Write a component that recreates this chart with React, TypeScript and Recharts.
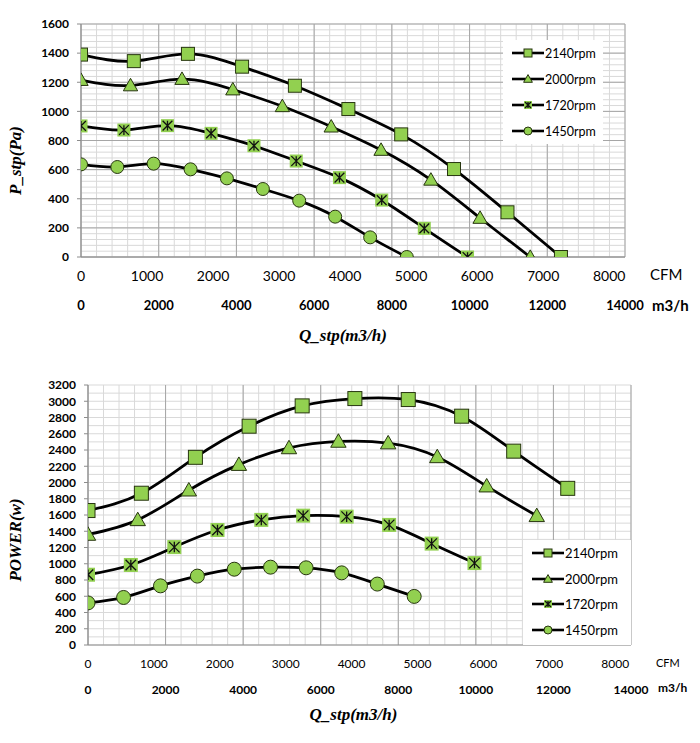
import { CartesianGrid, Label, Legend, Line, LineChart, XAxis, YAxis } from 'recharts'

const GREEN = '#92d050'
const EDGE = '#27350f'
const M3H_PER_CFM = 1.699
const M3H_MAX = 14000

// static pressure (x in CFM, y in Pa)
const cfm2140P = [0, 800, 1620, 2440, 3240, 4050, 4850, 5650, 6460, 7270]
const p2140 = [1390, 1345, 1395, 1307, 1176, 1016, 842, 604, 307, 0]
const cfm2000P = [0, 750, 1530, 2300, 3050, 3790, 4545, 5300, 6045, 6805]
const p2000 = [1215, 1178, 1222, 1150, 1035, 895, 735, 530, 268, 0]
const cfm1720P = [0, 650, 1310, 1970, 2620, 3260, 3915, 4555, 5200, 5855]
const p1720 = [900, 872, 902, 849, 764, 659, 545, 391, 197, 0]
const cfm1450P = [0, 550, 1100, 1660, 2210, 2755, 3305, 3850, 4380, 4935]
const p1450 = [636, 618, 641, 602, 540, 467, 387, 277, 135, 0]

// power (x in CFM, y in W)
const cfm2140W = [0, 810, 1630, 2445, 3250, 4050, 4860, 5670, 6460, 7280]
const w2140 = [1655, 1868, 2310, 2693, 2943, 3033, 3021, 2816, 2386, 1928]
const cfm2000W = [0, 755, 1530, 2290, 3050, 3800, 4555, 5300, 6050, 6810]
const w2000 = [1360, 1540, 1905, 2220, 2425, 2505, 2485, 2315, 1955, 1590]
const cfm1720W = [0, 650, 1310, 1965, 2630, 3265, 3925, 4570, 5215, 5865]
const w1720 = [865, 985, 1205, 1415, 1540, 1592, 1580, 1478, 1248, 1008]
const cfm1450W = [0, 540, 1100, 1660, 2220, 2770, 3310, 3850, 4390, 4950]
const w1450 = [518, 585, 728, 848, 933, 958, 950, 888, 750, 598]

const cfmTicks = [0, 1000, 2000, 3000, 4000, 5000, 6000, 7000, 8000]
const m3hTicks = [0, 2000, 4000, 6000, 8000, 10000, 12000, 14000]
const pTicks = [0, 200, 400, 600, 800, 1000, 1200, 1400, 1600]
const wTicks = [0, 200, 400, 600, 800, 1000, 1200, 1400, 1600, 1800, 2000, 2200, 2400, 2600, 2800, 3000, 3200]

const seriesNames = ['2140rpm', '2000rpm', '1720rpm', '1450rpm']
const seriesShapes = ['square', 'triangle', 'star', 'circle']

const zip = (xs: number[], ys: number[]) => xs.map((x, i) => ({ x, y: ys[i] }))
const range = (max: number, step: number) => Array.from({ length: max / step + 1 }, (_, i) => i * step)

const pressureData = [zip(cfm2140P, p2140), zip(cfm2000P, p2000), zip(cfm1720P, p1720), zip(cfm1450P, p1450)]
const powerData = [zip(cfm2140W, w2140), zip(cfm2000W, w2000), zip(cfm1720W, w1720), zip(cfm1450W, w1450)]
// chart-level rows for the m3/h scale (it carries no series of its own)
const m3hRows = m3hTicks.map((m3h) => ({ m3h }))

function Marker({ shape, cx, cy, s }: { shape: string; cx: number; cy: number; s: number }) {
  const h = s / 2
  if (shape === 'square') {
    return <rect x={cx - h} y={cy - h} width={s} height={s} fill={GREEN} stroke={EDGE} strokeWidth={1} />
  }
  if (shape === 'triangle') {
    const t = s * 0.55
    return (
      <polygon
        points={`${cx},${cy - t} ${cx + t},${cy + t * 0.75} ${cx - t},${cy + t * 0.75}`}
        fill={GREEN}
        stroke={EDGE}
        strokeWidth={1}
      />
    )
  }
  if (shape === 'star') {
    const k = h * 0.75
    return (
      <g>
        <rect x={cx - h} y={cy - h} width={s} height={s} fill={GREEN} />
        <path
          d={`M${cx - k},${cy - k}L${cx + k},${cy + k}M${cx + k},${cy - k}L${cx - k},${cy + k}M${cx},${cy - k}L${cx},${cy + k}`}
          stroke="#111"
          strokeWidth={1.3}
        />
      </g>
    )
  }
  return <circle cx={cx} cy={cy} r={h} fill={GREEN} stroke={EDGE} strokeWidth={1} />
}

function makeDot(shape: string, s: number) {
  return (props: any) => {
    const { cx, cy, index } = props
    if (cx == null || cy == null) return <g key={index} />
    return <Marker key={index} shape={shape} cx={cx} cy={cy} s={s} />
  }
}

function LegendBox({ fontSize, rowH, marker }: { fontSize: number; rowH: number; marker: number }) {
  return (
    <div style={{ background: '#fff', padding: '0 0 0 9px' }}>
      {seriesNames.map((name, i) => (
        <div key={name} style={{ display: 'flex', alignItems: 'center', height: rowH }}>
          <svg width={32} height={14} style={{ display: 'block' }}>
            <line x1={0} y1={7} x2={32} y2={7} stroke="#000" strokeWidth={2.6} />
            <Marker shape={seriesShapes[i]} cx={16} cy={7} s={marker} />
          </svg>
          <span style={{ fontFamily: 'Lato', fontSize, color: '#000', marginLeft: 1 }}>{name}</span>
        </div>
      ))}
    </div>
  )
}

const serif = { fontFamily: 'Liberation Serif', fontWeight: 700, fontStyle: 'italic' } as const

type PanelProps = {
  top: number
  height: number
  margin: { top: number; right: number; bottom: number; left: number }
  data: { x: number; y: number }[][]
  yTicks: number[]
  yMax: number
  yMinorStep: number
  majorHorizontal: boolean
  yTitle: string
  yTitleShift: number
  xTitleShift: number
  xTitleDrop: number
  m3hMargin: number
  unitDrop: number
  cfmFont: number
  m3hFont: number
  unitFont: number
  cfmUnitFont: number
  legend: { left: number; top: number; width: number; height: number; fontSize: number; rowH: number }
  markerSize: number
}

function Panel(p: PanelProps) {
  const cfmMax = M3H_MAX / M3H_PER_CFM
  return (
    <div style={{ position: 'absolute', left: 0, top: p.top }}>
      <LineChart width={700} height={p.height} margin={p.margin} data={m3hRows}>
        <CartesianGrid
          xAxisId="m3h"
          yAxisId="val"
          stroke="#d9d9d9"
          strokeWidth={1}
          verticalValues={range(M3H_MAX, 400)}
          horizontalValues={range(p.yMax, p.yMinorStep)}
        />
        <CartesianGrid xAxisId="m3h" yAxisId="val" stroke="#a6a6a6" strokeWidth={1} horizontal={p.majorHorizontal} />
        <XAxis
          xAxisId="cfm"
          type="number"
          dataKey="x"
          domain={[0, cfmMax]}
          allowDataOverflow
          ticks={cfmTicks}
          interval={0}
          height={28}
          axisLine={{ stroke: '#8c8c8c' }}
          tickLine={false}
          tickMargin={8}
          tick={{ fontFamily: 'Lato', fontSize: p.cfmFont, fill: '#000' }}
        >
          <Label
            content={({ viewBox }: any) => (
              <text
                x={viewBox.x + viewBox.width + 25}
                y={viewBox.y + 19}
                fontFamily="Lato"
                fontSize={p.cfmUnitFont}
                fill="#000"
                dominantBaseline="middle"
              >
                CFM
              </text>
            )}
          />
        </XAxis>
        <XAxis
          xAxisId="m3h"
          type="number"
          dataKey="m3h"
          domain={[0, M3H_MAX]}
          allowDataOverflow
          ticks={m3hTicks}
          interval={0}
          height={29}
          axisLine={false}
          tickLine={false}
          tickMargin={p.m3hMargin}
          tick={{ fontFamily: 'Lato', fontWeight: 700, fontSize: p.m3hFont, fill: '#000' }}
        >
          <Label
            content={({ viewBox }: any) => (
              <g>
                <text
                  x={viewBox.x + viewBox.width + 27}
                  y={viewBox.y + p.unitDrop}
                  fontFamily="Lato"
                  fontWeight={700}
                  fontSize={p.unitFont}
                  fill="#000"
                  dominantBaseline="middle"
                >
                  m3/h
                </text>
                <text
                  x={viewBox.x + viewBox.width / 2 + p.xTitleShift}
                  y={viewBox.y + viewBox.height + p.xTitleDrop}
                  textAnchor="middle"
                  dominantBaseline="middle"
                  fontSize={17}
                  fill="#000"
                  {...serif}
                >
                  Q_stp(m3/h)
                </text>
              </g>
            )}
          />
        </XAxis>
        <YAxis
          yAxisId="val"
          type="number"
          domain={[0, p.yMax]}
          allowDataOverflow
          ticks={p.yTicks}
          width={60}
          interval={0}
          axisLine={{ stroke: '#8c8c8c' }}
          tickLine={{ stroke: '#8c8c8c' }}
          tickSize={4}
          tickMargin={8}
          tick={{ fontFamily: 'Lato', fontWeight: 700, fontSize: 12, fill: '#000' }}
        >
          <Label
            content={({ viewBox }: any) => {
              const cx = 17
              const cy = viewBox.y + viewBox.height / 2 + p.yTitleShift
              return (
                <text
                  x={cx}
                  y={cy}
                  transform={`rotate(-90 ${cx} ${cy})`}
                  textAnchor="middle"
                  dominantBaseline="middle"
                  fontSize={17}
                  fill="#000"
                  {...serif}
                >
                  {p.yTitle}
                </text>
              )
            }}
          />
        </YAxis>
        {p.data.map((d, i) => (
          <Line
            key={seriesNames[i]}
            name={seriesNames[i]}
            data={d}
            dataKey="y"
            xAxisId="cfm"
            yAxisId="val"
            type="natural"
            stroke="#000"
            strokeWidth={2.8}
            dot={makeDot(seriesShapes[i], p.markerSize)}
            activeDot={false}
            isAnimationActive={false}
          />
        ))}
        <Legend
          layout="vertical"
          align="center"
          verticalAlign="middle"
          wrapperStyle={{
            position: 'absolute',
            left: p.legend.left,
            top: p.legend.top,
            width: p.legend.width,
            height: p.legend.height,
            background: '#fff',
          }}
          content={() => <LegendBox fontSize={p.legend.fontSize} rowH={p.legend.rowH} marker={8} />}
        />
      </LineChart>
    </div>
  )
}

export default function App() {
  return (
    <div style={{ position: 'absolute', left: 0, top: 0, width: 700, height: 743, background: '#fff' }}>
      <Panel
        top={0}
        height={345}
        margin={{ top: 24, right: 75, bottom: 31, left: 21 }}
        data={pressureData}
        yTicks={pTicks}
        yMax={1600}
        yMinorStep={40}
        majorHorizontal={true}
        yTitle="P_stp(Pa)"
        yTitleShift={20}
        xTitleShift={-10}
        xTitleDrop={23}
        m3hMargin={10}
        unitDrop={22}
        cfmFont={14}
        m3hFont={13}
        unitFont={15}
        cfmUnitFont={15}
        legend={{ left: 503, top: 40, width: 100, height: 102, fontSize: 12.5, rowH: 26 }}
        markerSize={13}
      />
      <Panel
        top={360}
        height={383}
        margin={{ top: 25, right: 69, bottom: 41, left: 28 }}
        data={powerData}
        yTicks={wTicks}
        yMax={3200}
        yMinorStep={100}
        majorHorizontal={false}
        yTitle="POWER(w)"
        yTitleShift={25}
        xTitleShift={-6}
        xTitleDrop={14}
        m3hMargin={6}
        unitDrop={16}
        cfmFont={12}
        m3hFont={12}
        unitFont={12}
        cfmUnitFont={11}
        legend={{ left: 523, top: 180, width: 108, height: 105, fontSize: 13, rowH: 25.7 }}
        markerSize={14}
      />
    </div>
  )
}
